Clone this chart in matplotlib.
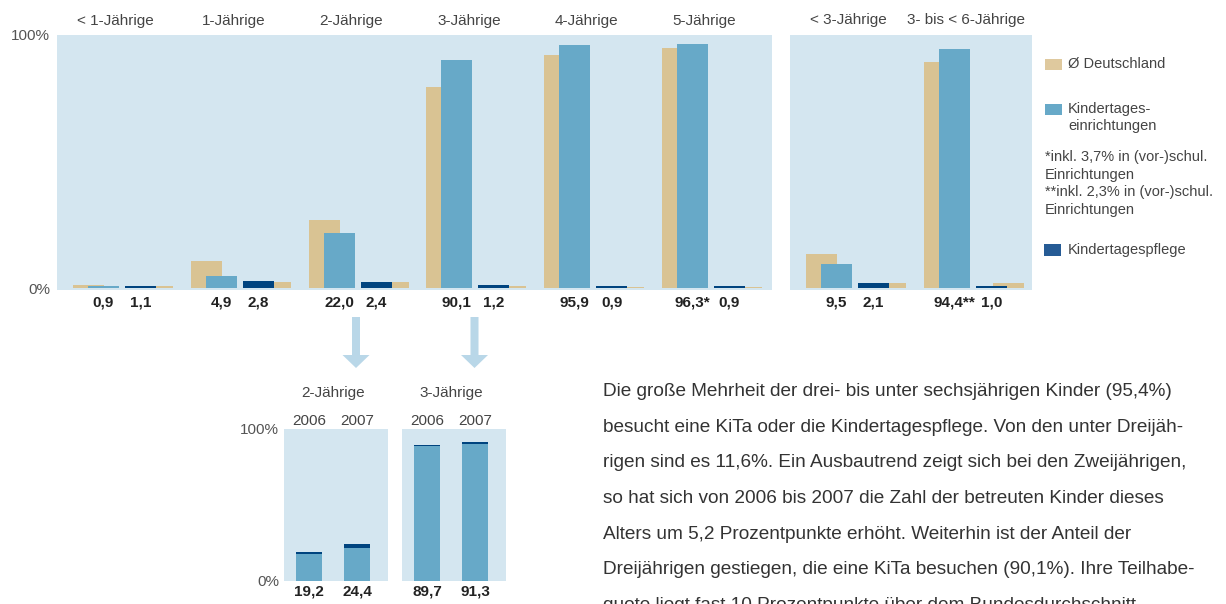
import numpy as np
import matplotlib
matplotlib.use("Agg")
import matplotlib.pyplot as plt
from matplotlib.patches import Rectangle, FancyArrow

plt.rcParams['font.family'] = ['Liberation Sans', 'DejaVu Sans']

# --- data -------------------------------------------------------------
ages = ['< 1-Jährige', '1-Jährige', '2-Jährige', '3-Jährige', '4-Jährige', '5-Jährige']
kita = [0.9, 4.9, 22.0, 90.1, 95.9, 96.3]
pflege = [1.1, 2.8, 2.4, 1.2, 0.9, 0.9]
de_kita = [1.5, 10.8, 27.0, 79.3, 92.3, 94.7]
de_pflege = [1.0, 2.6, 2.6, 1.0, 0.6, 0.6]
kita_marks = ['', '', '', '', '', '*']

ranges = ['< 3-Jährige', '3- bis < 6-Jährige']
kita_r = [9.5, 94.4]
pflege_r = [2.1, 1.0]
de_kita_r = [13.6, 89.2]
de_pflege_r = [2.2, 2.2]
kita_marks_r = ['', '**']

trend_ages = ['2-Jährige', '3-Jährige']
years = ['2006', '2007']
trend_kita = [[17.6, 22.0], [88.7, 90.1]]
trend_pflege = [[1.6, 2.4], [1.0, 1.2]]

paragraph = [
    "Die große Mehrheit der drei- bis unter sechsjährigen Kinder (95,4%)",
    "besucht eine KiTa oder die Kindertagespflege. Von den unter Dreijäh-",
    "rigen sind es 11,6%. Ein Ausbautrend zeigt sich bei den Zweijährigen,",
    "so hat sich von 2006 bis 2007 die Zahl der betreuten Kinder dieses",
    "Alters um 5,2 Prozentpunkte erhöht. Weiterhin ist der Anteil der",
    "Dreijährigen gestiegen, die eine KiTa besuchen (90,1%). Ihre Teilhabe-",
    "quote liegt fast 10 Prozentpunkte über dem Bundesdurchschnitt",
]

# --- style ------------------------------------------------------------
BG = '#d4e6f0'
TAN = '#d9c393'
BLUE = '#67a9c8'
DARK = '#00447f'
ARROW = '#b9d7e8'
GREY = '#444444'
VALUE = '#222222'
BW = 0.263

W, H = 1226, 604
fig = plt.figure(figsize=(W / 100, H / 100), dpi=100)

# overlay in pixel coordinates for legend, arrows and text
ov = fig.add_axes([0, 0, 1, 1])
ov.set_xlim(0, W)
ov.set_ylim(H, 0)
ov.axis('off')


def px_axes(left, top, right, bottom):
    ax = fig.add_axes([left / W, 1 - bottom / H, (right - left) / W, (bottom - top) / H])
    ax.set_facecolor(BG)
    for s in ax.spines.values():
        s.set_visible(False)
    ax.set_xticks([])
    ax.tick_params(length=0, labelsize=11, labelcolor='#555555')
    return ax


def fmt(v):
    return f"{v:.1f}".replace('.', ',')


def draw_panel(ax, labels, kv, pv, dk, dp, marks):
    x = np.arange(len(labels))
    ax.bar(x, dk, BW, align='edge', color=TAN, zorder=1)
    ax.bar(x + 0.127, kv, BW, align='edge', color=BLUE, zorder=2)
    ax.bar(x + 0.586, dp, BW, align='edge', color=TAN, zorder=1)
    ax.bar(x + 0.441, pv, BW, align='edge', color=DARK, zorder=2)
    for i in range(len(labels)):
        ax.text(x[i] + 0.259, -5.7, fmt(kv[i]) + marks[i], ha='center', va='center',
                fontsize=11, fontweight='bold', color=VALUE, clip_on=False)
        ax.text(x[i] + 0.573, -5.7, fmt(pv[i]), ha='center', va='center',
                fontsize=11, fontweight='bold', color=VALUE, clip_on=False)
        ax.text(x[i] + 0.36, 105.7, labels[i], ha='center', va='center',
                fontsize=11, color=GREY, clip_on=False)
    ax.set_ylim(-0.6, 99.8)


ax1 = px_axes(57, 35, 772, 290)
draw_panel(ax1, ages, kita, pflege, de_kita, de_pflege, kita_marks)
ax1.set_xlim(-0.136, 5.934)
ax1.set_yticks([0, 100])
ax1.set_yticklabels(['0%', '100%'])
ax1.tick_params(pad=5)

ax2 = px_axes(790, 35, 1032, 290)
draw_panel(ax2, ranges, kita_r, pflege_r, de_kita_r, de_pflege_r, kita_marks_r)
ax2.set_xlim(-0.136, 1.918)
ax2.set_yticks([])

# lower trend panels
for j, (left, right) in enumerate([(284, 388), (402, 506)]):
    ax = px_axes(left, 429, right, 581)
    x = np.arange(len(years))
    ax.bar(x, trend_kita[j], 0.542, color=BLUE, zorder=2)
    ax.bar(x, trend_pflege[j], 0.542, bottom=trend_kita[j], color=DARK, zorder=2)
    ax.set_xlim(-0.521, 1.646)
    ax.set_ylim(0, 100)
    for i in range(len(years)):
        ax.text(x[i], 105.3, years[i], ha='center', va='center', fontsize=11,
                color=GREY, clip_on=False)
        ax.text(x[i], -7.2, fmt(trend_kita[j][i] + trend_pflege[j][i]), ha='center',
                va='center', fontsize=11, fontweight='bold', color=VALUE, clip_on=False)
    ax.text(0.5, 123.7, trend_ages[j], ha='center', va='center', fontsize=11,
            color=GREY, clip_on=False)
    if j == 0:
        ax.set_yticks([0, 100])
        ax.set_yticklabels(['0%', '100%'])
        ax.tick_params(pad=3.6)
    else:
        ax.set_yticks([])

# arrows from the 2- and 3-year groups down to the trend panels
for cx in [356, 474.5]:
    ov.add_patch(FancyArrow(cx, 317, 0, 51, width=8, head_width=27, head_length=13,
                            length_includes_head=True, color=ARROW, lw=0))

# legend
ov.add_patch(Rectangle((1045, 59), 17, 11, color='#dfc99e', lw=0))
ov.text(1068, 64, 'Ø Deutschland', fontsize=10.5, color=GREY, va='center')
ov.add_patch(Rectangle((1045, 104), 17, 11, color=BLUE, lw=0))
ov.text(1068, 109, 'Kindertages-', fontsize=10.5, color=GREY, va='center')
ov.text(1068, 126, 'einrichtungen', fontsize=10.5, color=GREY, va='center')
notes = ['*inkl. 3,7% in (vor-)schul.', 'Einrichtungen',
         '**inkl. 2,3% in (vor-)schul.', 'Einrichtungen']
for k, line in enumerate(notes):
    ov.text(1045, 157 + k * 17.7, line, fontsize=10.5, color=GREY, va='center')
ov.add_patch(Rectangle((1044, 244), 17, 12, color='#265b95', lw=0))
ov.text(1068, 250, 'Kindertagespflege', fontsize=10.5, color=GREY, va='center')

# paragraph
for k, line in enumerate(paragraph):
    ov.text(603, 396 + k * 35.7, line, fontsize=13.7, color='#333333', va='baseline')

fig.savefig('out.png', dpi=100)
